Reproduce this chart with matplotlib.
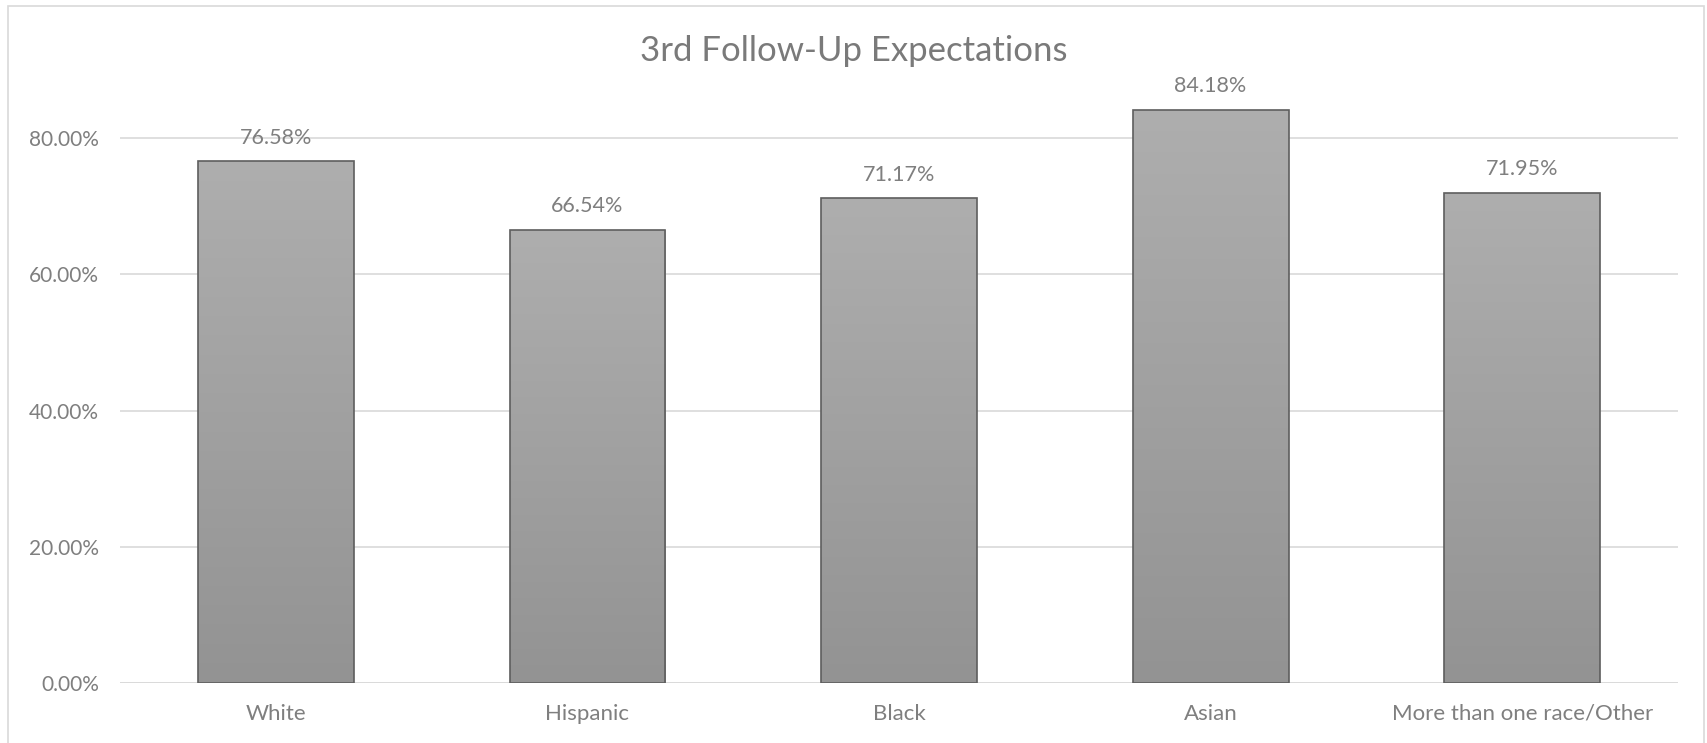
import numpy as np
import matplotlib
matplotlib.use("Agg")
from matplotlib import pyplot as plt
from matplotlib.patches import Rectangle

plt.rcParams['font.family'] = ['Lato', 'DejaVu Sans']

categories = ["White", "Hispanic", "Black", "Asian", "More than one race/Other"]
values = [76.58, 66.54, 71.17, 84.18, 71.95]
yticks = [0, 20, 40, 60, 80]
title = "3rd Follow-Up Expectations"

W, H = 1707, 743
fig = plt.figure(figsize=(W / 100, H / 100), dpi=100)
ax = fig.add_axes([120 / W, 1 - 683 / H, (1678 - 120) / W, (683 - 70) / H])

text_grey = "#7f7f7f"
x = np.arange(len(categories))
bars = ax.bar(x, values, width=0.5, color="none", edgecolor="#5e5e5e", linewidth=1.2, zorder=3)

# vertical gradient fill for each bar
grad = np.linspace(0, 1, 256).reshape(-1, 1)
cmap = matplotlib.colors.LinearSegmentedColormap.from_list("g", ["#939393", "#aeaeae"])
for b in bars:
    x0, w, h = b.get_x(), b.get_width(), b.get_height()
    im = ax.imshow(grad, extent=[x0, x0 + w, 0, h], origin="lower", aspect="auto",
                   cmap=cmap, zorder=2)
    im.set_clip_path(b)

for xi, v in zip(x, values):
    ax.annotate(f"{v:.2f}%", (xi, v), xytext=(0, 17), textcoords="offset points",
                ha="center", va="center", fontsize=15.5, color=text_grey)

ax.set_xlim(-0.5, len(categories) - 0.5)
ax.set_ylim(0, 90)
ax.set_yticks(yticks)
ax.set_yticklabels([f"{t:.2f}%" for t in yticks])
ax.set_xticks(x)
ax.set_xticklabels(categories)
ax.tick_params(axis="both", length=0, labelcolor=text_grey)
ax.tick_params(axis="y", pad=15, labelsize=15)
ax.tick_params(axis="x", pad=15, labelsize=16)
ax.grid(axis="y", color="#d9d9d9", linewidth=1.2, zorder=0)
for s in ax.spines.values():
    s.set_visible(False)
ax.axhline(0, color="#d9d9d9", linewidth=1.2, zorder=1)

fig.text(0.5, 1 - 51 / H, title, ha="center", va="center", fontsize=25, color="#7a7a7a")

fig.patches.append(Rectangle((8 / W, -0.01), (1704 - 8) / W, 1 - 6 / H + 0.01,
                             transform=fig.transFigure, fill=False,
                             edgecolor="#d9d9d9", linewidth=1.2))

fig.savefig("out.png", dpi=100)
